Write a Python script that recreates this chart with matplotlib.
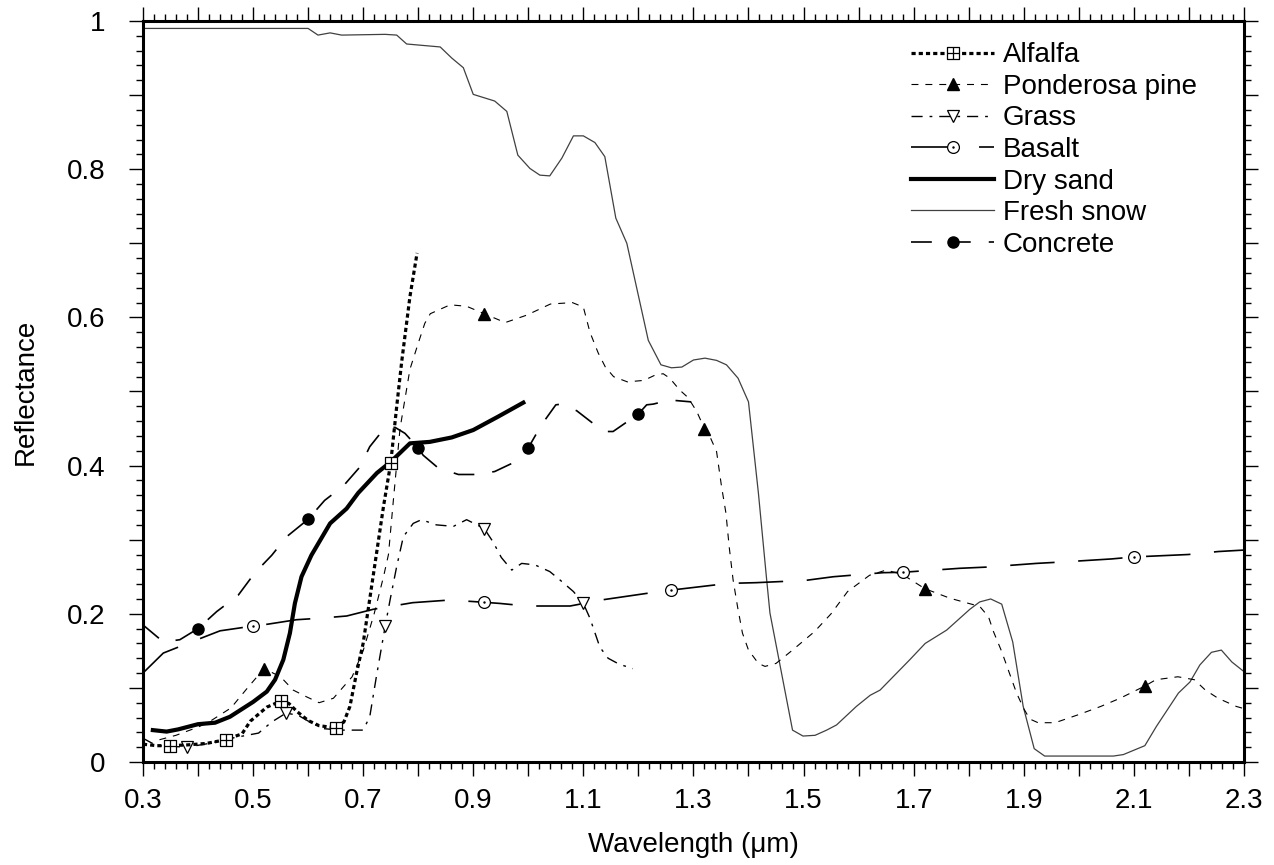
import numpy as np
import matplotlib
matplotlib.use("Agg")
import matplotlib.pyplot as plt
from matplotlib.path import Path
from matplotlib.ticker import MultipleLocator, FuncFormatter

plt.rcParams['font.family'] = ['Liberation Sans', 'DejaVu Sans']
plt.rcParams['lines.scale_dashes'] = False

# spectral reflectance curves (wavelength in um, reflectance 0-1)
alfalfa_x = [0.30, 0.325, 0.35, 0.38, 0.415, 0.45, 0.48, 0.495, 0.525, 0.55, 0.565, 0.58,
             0.60, 0.62, 0.65, 0.665, 0.676, 0.688, 0.70, 0.709, 0.718, 0.727, 0.737,
             0.75, 0.761, 0.77, 0.785, 0.798]
alfalfa_y = [0.024, 0.022, 0.022, 0.023, 0.025, 0.030, 0.038, 0.055, 0.074, 0.082, 0.079,
             0.068, 0.056, 0.049, 0.046, 0.054, 0.075, 0.12, 0.16, 0.205, 0.25, 0.295,
             0.345, 0.403, 0.48, 0.54, 0.628, 0.687]
alfalfa_marks = [0.35, 0.45, 0.55, 0.65, 0.75]

pine_x = [0.33, 0.36, 0.40, 0.42, 0.46, 0.49, 0.52, 0.55, 0.573, 0.597, 0.62, 0.646, 0.68,
          0.70, 0.72, 0.737, 0.746, 0.755, 0.767, 0.785, 0.80, 0.812, 0.822, 0.858, 0.888,
          0.92, 0.958, 0.997, 1.04, 1.08, 1.10, 1.112, 1.127, 1.14, 1.155, 1.18, 1.21,
          1.23, 1.245, 1.257, 1.275, 1.29, 1.306, 1.32, 1.33, 1.342, 1.351, 1.359, 1.365,
          1.372, 1.38, 1.389, 1.40, 1.418, 1.43, 1.45, 1.48, 1.52, 1.55, 1.58, 1.62,
          1.65, 1.68, 1.72, 1.766, 1.80, 1.82, 1.836, 1.845, 1.86, 1.872, 1.887, 1.90,
          1.911, 1.926, 1.957, 2.00, 2.04, 2.075, 2.12, 2.14, 2.18, 2.21, 2.23, 2.253,
          2.286, 2.30]
pine_y = [0.030, 0.036, 0.047, 0.054, 0.073, 0.10, 0.126, 0.115, 0.097, 0.088, 0.080,
          0.086, 0.115, 0.15, 0.20, 0.25, 0.28, 0.354, 0.45, 0.53, 0.565, 0.592, 0.605,
          0.617, 0.615, 0.605, 0.593, 0.603, 0.618, 0.62, 0.614, 0.58, 0.552, 0.533,
          0.52, 0.513, 0.515, 0.522, 0.524, 0.518, 0.502, 0.492, 0.473, 0.45, 0.439,
          0.419, 0.372, 0.336, 0.29, 0.246, 0.21, 0.174, 0.151, 0.133, 0.129, 0.133,
          0.151, 0.176, 0.20, 0.23, 0.252, 0.259, 0.253, 0.234, 0.221, 0.214, 0.21,
          0.196, 0.176, 0.149, 0.124, 0.093, 0.072, 0.058, 0.053, 0.053, 0.064, 0.075,
          0.086, 0.1025, 0.111, 0.115, 0.111, 0.097, 0.086, 0.075, 0.072]
pine_marks = [0.52, 0.92, 1.32, 1.72, 2.12]

grass_x = [0.30, 0.325, 0.38, 0.42, 0.46, 0.51, 0.534, 0.56, 0.582, 0.603, 0.628, 0.658,
           0.70, 0.712, 0.724, 0.74, 0.749, 0.761, 0.773, 0.791, 0.806, 0.833, 0.864,
           0.888, 0.92, 0.936, 0.951, 0.97, 0.988, 1.012, 1.039, 1.057, 1.082, 1.10,
           1.112, 1.13, 1.145, 1.165, 1.19]
grass_y = [0.032, 0.022, 0.020, 0.025, 0.032, 0.039, 0.054, 0.066, 0.063, 0.054, 0.045,
           0.043, 0.043, 0.061, 0.115, 0.183, 0.219, 0.264, 0.304, 0.322, 0.327, 0.32,
           0.318, 0.327, 0.315, 0.297, 0.276, 0.259, 0.268, 0.266, 0.257, 0.246, 0.23,
           0.214, 0.194, 0.155, 0.14, 0.132, 0.126]
grass_marks = [0.38, 0.56, 0.74, 0.92, 1.10]

basalt_x = [0.30, 0.337, 0.388, 0.44, 0.50, 0.527, 0.579, 0.621, 0.67, 0.718, 0.79, 0.858,
            0.92, 0.948, 0.997, 1.076, 1.136, 1.224, 1.26, 1.363, 1.414, 1.503, 1.554,
            1.645, 1.68, 1.784, 1.832, 1.923, 1.972, 2.059, 2.10, 2.199, 2.253, 2.30]
basalt_y = [0.12, 0.147, 0.162, 0.177, 0.1835, 0.186, 0.192, 0.194, 0.197, 0.206, 0.215,
            0.2186, 0.2155, 0.214, 0.2105, 0.2105, 0.219, 0.2285, 0.232, 0.241, 0.242,
            0.245, 0.250, 0.2555, 0.256, 0.2614, 0.263, 0.268, 0.270, 0.274, 0.2767,
            0.280, 0.284, 0.286]
basalt_marks = [0.50, 0.92, 1.26, 1.68, 2.10]

sand_x = [0.318, 0.343, 0.364, 0.40, 0.431, 0.458, 0.50, 0.525, 0.54, 0.555, 0.567, 0.576,
          0.588, 0.606, 0.64, 0.67, 0.691, 0.725, 0.75, 0.785, 0.821, 0.861, 0.90, 0.945,
          0.991]
sand_y = [0.043, 0.041, 0.044, 0.051, 0.053, 0.061, 0.081, 0.095, 0.111, 0.138, 0.174,
          0.214, 0.250, 0.279, 0.322, 0.342, 0.363, 0.390, 0.405, 0.430, 0.432, 0.438,
          0.448, 0.466, 0.485]

snow_x = [0.30, 0.60, 0.618, 0.64, 0.661, 0.74, 0.761, 0.779, 0.84, 0.861, 0.882, 0.90,
          0.939, 0.961, 0.981, 1.003, 1.021, 1.039, 1.061, 1.082, 1.10, 1.121, 1.139,
          1.159, 1.179, 1.218, 1.241, 1.26, 1.279, 1.30, 1.321, 1.342, 1.36, 1.381, 1.40,
          1.418, 1.433, 1.439, 1.48, 1.499, 1.521, 1.542, 1.56, 1.596, 1.621, 1.639,
          1.693, 1.721, 1.76, 1.781, 1.802, 1.82, 1.84, 1.86, 1.88, 1.899, 1.919, 1.938,
          2.063, 2.081, 2.12, 2.141, 2.181, 2.202, 2.22, 2.241, 2.259, 2.278, 2.30]
snow_y = [0.99, 0.99, 0.981, 0.984, 0.981, 0.982, 0.981, 0.969, 0.965, 0.950, 0.937,
          0.901, 0.892, 0.878, 0.819, 0.801, 0.792, 0.791, 0.815, 0.845, 0.845, 0.836,
          0.817, 0.734, 0.700, 0.569, 0.536, 0.532, 0.533, 0.5425, 0.545, 0.542, 0.536,
          0.518, 0.486, 0.363, 0.246, 0.201, 0.043, 0.035, 0.036, 0.043, 0.050, 0.075,
          0.090, 0.097, 0.138, 0.160, 0.178, 0.192, 0.206, 0.216, 0.220, 0.213, 0.162,
          0.075, 0.018, 0.008, 0.008, 0.010, 0.022, 0.048, 0.093, 0.108, 0.131, 0.148,
          0.151, 0.135, 0.122]

concrete_x = [0.30, 0.337, 0.367, 0.40, 0.434, 0.473, 0.503, 0.534, 0.561, 0.60, 0.63,
              0.664, 0.694, 0.712, 0.74, 0.758, 0.776, 0.80, 0.809, 0.836, 0.873, 0.906,
              0.939, 0.976, 1.00, 1.024, 1.05, 1.06, 1.088, 1.121, 1.142, 1.154, 1.20,
              1.215, 1.227, 1.257, 1.296]
concrete_y = [0.185, 0.162, 0.165, 0.18, 0.203, 0.225, 0.255, 0.279, 0.304, 0.3275,
              0.353, 0.3725, 0.398, 0.4255, 0.4516, 0.4516, 0.4435, 0.424, 0.414, 0.397,
              0.388, 0.388, 0.392, 0.405, 0.424, 0.455, 0.482, 0.483, 0.474, 0.455,
              0.446, 0.446, 0.4696, 0.482, 0.483, 0.4885, 0.486]
concrete_marks = [0.40, 0.60, 0.80, 1.00, 1.20]


def mark_idx(xs, marks):
    xs = np.asarray(xs)
    return [int(np.argmin(np.abs(xs - m))) for m in marks]


# square with a cross inside, and a circle with a dot in the middle
square_plus = Path([(-1, -1), (1, -1), (1, 1), (-1, 1), (-1, -1), (0, -1), (0, 1), (-1, 0), (1, 0)],
                   [Path.MOVETO, Path.LINETO, Path.LINETO, Path.LINETO, Path.CLOSEPOLY,
                    Path.MOVETO, Path.LINETO, Path.MOVETO, Path.LINETO])
dot_circle = Path.make_compound_path(Path.unit_circle(), Path.circle((0, 0), 0.1))

fig = plt.figure(figsize=(12.74, 8.65), dpi=100)
ax = fig.add_axes([0.1122, 0.1191, 0.8642, 0.8566])

ax.plot(alfalfa_x, alfalfa_y, color='black', lw=2.3, ls=(0, (3, 2.2)),
        marker=square_plus, ms=8, mfc='white', mec='black', mew=0.9,
        markevery=mark_idx(alfalfa_x, alfalfa_marks), label='Alfalfa', zorder=5)
ax.plot(pine_x, pine_y, color='black', lw=0.8, ls=(0, (5, 5)),
        marker='^', ms=8.5, mfc='black', mec='black',
        markevery=mark_idx(pine_x, pine_marks), label='Ponderosa pine', zorder=4)
ax.plot(grass_x, grass_y, color='black', lw=1.0, ls=(0, (8, 5, 2, 5)),
        marker='v', ms=9, mfc='white', mec='black', mew=0.9,
        markevery=mark_idx(grass_x, grass_marks), label='Grass', zorder=4)
ax.plot(basalt_x, basalt_y, color='black', lw=1.2, ls=(0, (32, 17)),
        marker=dot_circle, ms=8.5, mfc='white', mec='black', mew=0.9,
        markevery=mark_idx(basalt_x, basalt_marks), label='Basalt', zorder=4)
ax.plot(sand_x, sand_y, color='black', lw=3.0, label='Dry sand', zorder=3)
ax.plot(snow_x, snow_y, color='#404040', lw=0.9, label='Fresh snow', zorder=2)
ax.plot(concrete_x, concrete_y, color='black', lw=1.2, ls=(0, (15, 13)),
        marker='o', ms=8, mfc='black', mec='black',
        markevery=mark_idx(concrete_x, concrete_marks), label='Concrete', zorder=4)

ax.set_xlim(0.3, 2.3)
ax.set_ylim(0, 1)

ax.xaxis.set_major_locator(MultipleLocator(0.1))
ax.xaxis.set_minor_locator(MultipleLocator(0.02))
ax.yaxis.set_major_locator(MultipleLocator(0.1))
ax.yaxis.set_minor_locator(MultipleLocator(0.02))


def xfmt(v, pos):
    k = (v - 0.3) / 0.2
    return f'{v:.1f}' if abs(k - round(k)) < 1e-6 else ''


def yfmt(v, pos):
    k = v / 0.2
    if abs(k - round(k)) > 1e-6:
        return ''
    return f'{v:.1f}'.rstrip('0').rstrip('.') if v not in (0, 1) else f'{int(round(v))}'


ax.xaxis.set_major_formatter(FuncFormatter(xfmt))
ax.yaxis.set_major_formatter(FuncFormatter(yfmt))

ax.tick_params(which='both', direction='out', top=True, right=True, width=1.0,
               labelsize=20)
ax.tick_params(which='major', length=10)
ax.tick_params(which='minor', length=5)
ax.tick_params(axis='x', pad=9)
ax.tick_params(axis='y', pad=17)
for sp in ax.spines.values():
    sp.set_linewidth(2.2)

ax.set_xlabel('Wavelength (μm)', fontsize=20, labelpad=13)
ax.set_ylabel('Reflectance', fontsize=20, labelpad=20)

ax.legend(loc='upper left', bbox_to_anchor=(0.685, 0.99), frameon=False, fontsize=20,
          handlelength=3.0, handletextpad=0.3, labelspacing=0.2, borderpad=0,
          numpoints=1)

fig.savefig('out.png', dpi=100)
